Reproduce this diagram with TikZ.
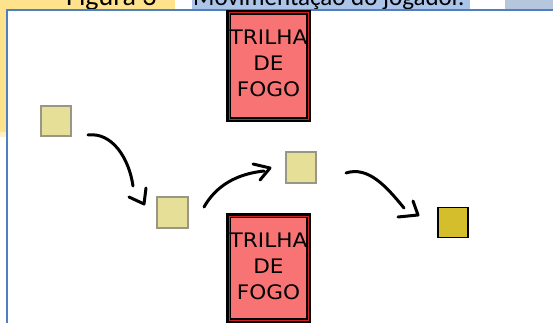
\documentclass[tikz,border=0pt]{standalone}
\usepackage{fontspec}
\setmainfont{DejaVu Sans}
\newfontfamily\trilhafont[FakeStretch=1.08]{DejaVu Sans}
\newfontfamily\capfont{Carlito}
\definecolor{capyellow}{HTML}{FFE38C}
\definecolor{capblue}{HTML}{AAC4EA}
\definecolor{capgrey}{HTML}{B6C7DD}
\definecolor{framecol}{HTML}{4F7FC0}
\definecolor{trilhafill}{HTML}{F87474}
\definecolor{trilhaedge}{HTML}{D42020}
\definecolor{sqlightfill}{HTML}{E6DF98}
\definecolor{sqlightedge}{HTML}{999688}
\definecolor{sqdarkfill}{HTML}{D4BE2C}
\begin{document}
\begin{tikzpicture}[x=1pt,y=-1pt,
  trilhabox/.style={draw=black, line width=5pt, fill=trilhafill, minimum width=80pt, inner sep=0pt},
  trilhatext/.style={align=center, inner sep=0pt, font=\trilhafont\fontsize{20}{25.8}\selectfont},
  sqlight/.style={draw=sqlightedge, line width=1.6pt, fill=sqlightfill, minimum size=30.5pt, inner sep=0pt},
  sqdark/.style={draw=black, line width=1.6pt, fill=sqdarkfill, minimum size=30pt, inner sep=0pt},
  pen/.style={draw=black, line width=3pt, line cap=round, line join=round},
  captext/.style={anchor=base west, inner sep=0pt, text=black}
]
\useasboundingbox (0,0) rectangle (553,323);
\clip (0,0) rectangle (553,323);
% caption band (cut off at top)
\fill[capyellow] (0,0) rectangle (175,10);
\fill[capyellow] (0,0) rectangle (7,132);
\fill[capyellow, opacity=0.5] (0,132) rectangle (7,137);
\fill[capblue] (192,0) rectangle (470,10);
\fill[capgrey] (505,0) rectangle (553,10);
\node[captext, font=\capfont\fontsize{28}{28}\selectfont] (cap1) at (66,6) {Figura 3 –};
\node[captext, font=\capfont\fontsize{25}{25}\selectfont] (cap2) at (193,6) {Movimentação do jogador.};
% frame
\draw[framecol, line width=2pt, fill=white] (7,10) rectangle (580,350);
% trilhas de fogo
\node[trilhabox, minimum height=107pt] (t1) at (268.5,66) {};
\draw[trilhaedge, line width=0.6pt] ([shift={(2.8,2.8)}]t1.north west) rectangle ([shift={(-2.8,-2.8)}]t1.south east);
\node[trilhatext] (t1txt) at (268.5,63.5) {TRILHA\\DE\\FOGO};
\node[trilhabox, minimum height=105pt] (t2) at (268.5,268) {};
\draw[trilhaedge, line width=0.6pt] ([shift={(2.8,2.8)}]t2.north west) rectangle ([shift={(-2.8,-2.8)}]t2.south east);
\node[trilhatext] (t2txt) at (268.5,266.5) {TRILHA\\DE\\FOGO};
% player positions
\node[sqlight] (p1) at (56,121) {};
\node[sqlight] (p2) at (172.5,212.5) {};
\node[sqlight] (p3) at (301,167.5) {};
\node[sqdark] (p4) at (453,222.5) {};
% movement arrows (hand drawn)
\coordinate (a1s) at (88,135);
\coordinate (a1e) at (133,186);
\coordinate (a1t) at (144,204);
\coordinate (a1l) at (129,197);
\coordinate (a1r) at (146,188);
\draw[pen] (a1s) .. controls (112,132) and (129,158) .. (a1e);
\draw[pen] (a1l) -- (a1t) -- (a1r);
\coordinate (a2s) at (204,207);
\coordinate (a2e) at (264,171);
\coordinate (a2t) at (270,168);
\coordinate (a2l) at (253,164);
\coordinate (a2r) at (260,180);
\draw[pen] (a2s) .. controls (216,186) and (236,174) .. (a2e);
\draw[pen] (a2l) -- (a2t) -- (a2r);
\coordinate (a3s) at (346,173);
\coordinate (a3e) at (404,208);
\coordinate (a3t) at (418,215);
\coordinate (a3l) at (398,217);
\coordinate (a3r) at (413,201);
\draw[pen] (a3s) .. controls (368,166) and (386,186) .. (a3e);
\draw[pen] (a3l) -- (a3t) -- (a3r);
\end{tikzpicture}
\end{document}
